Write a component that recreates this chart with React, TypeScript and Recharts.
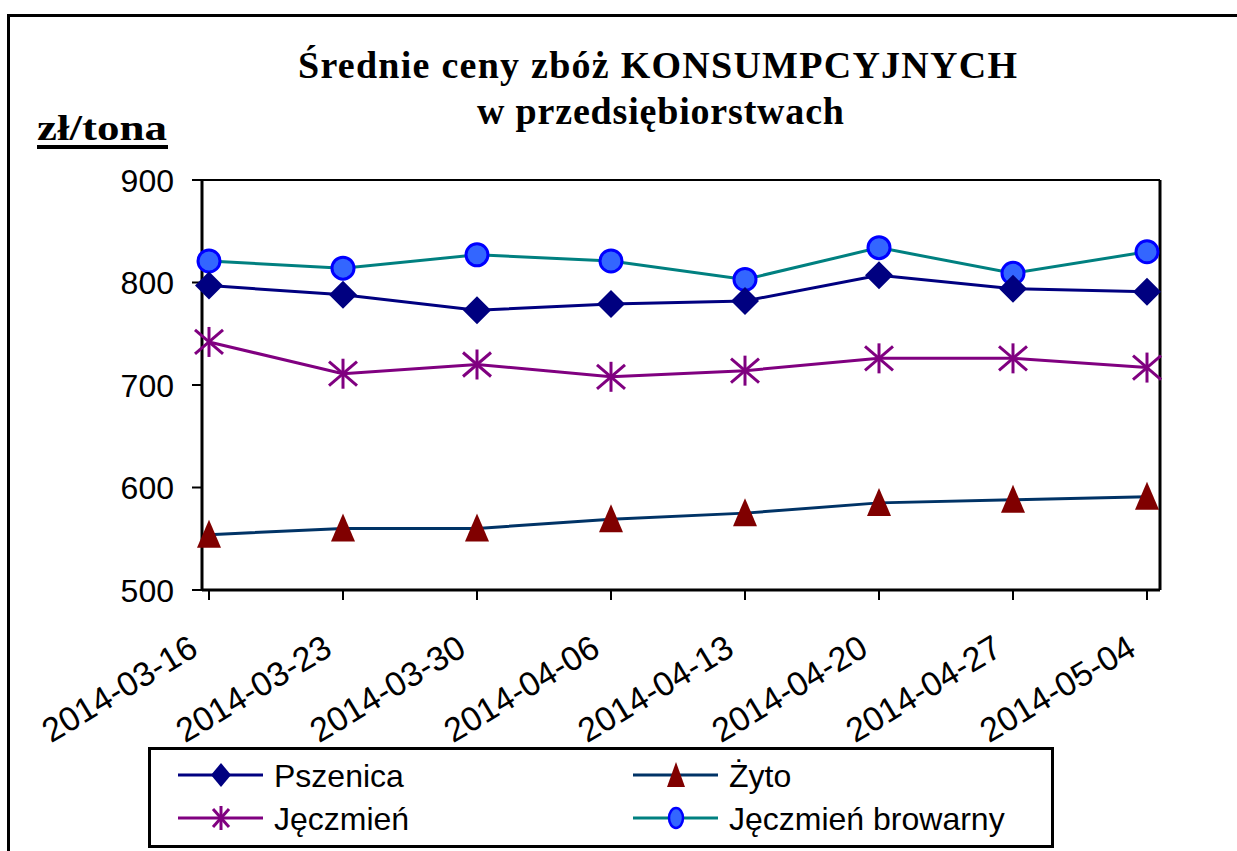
import React from "react";
import { LineChart, Line, XAxis, YAxis, CartesianGrid } from "recharts";

const dates = ["2014-03-16", "2014-03-23", "2014-03-30", "2014-04-06", "2014-04-13", "2014-04-20", "2014-04-27", "2014-05-04"];
const pszenica = [797, 788, 773, 779, 782, 807, 794, 791];
const zyto = [554, 560, 560, 569, 575, 585, 588, 591];
const jeczmien = [742, 711, 720, 708, 714, 726, 726, 717];
const browarny = [821, 814, 827, 821, 803, 834, 809, 830];
const yTicks = [500, 600, 700, 800, 900];

const data = dates.map((d, i) => ({
  date: d,
  pszenica: pszenica[i],
  zyto: zyto[i],
  jeczmien: jeczmien[i],
  browarny: browarny[i],
}));

const SANS = "Arial, 'Liberation Sans', sans-serif";
const SERIF = "'Times New Roman', 'Liberation Serif', serif";

const Diamond = (p: any) => {
  const { cx, cy } = p;
  if (cx == null || cy == null) return <g key={p.index} />;
  return <path key={p.index} d={`M${cx},${cy - 14} L${cx + 14},${cy} L${cx},${cy + 14} L${cx - 14},${cy} Z`} fill="#000080" />;
};
const Tri = (p: any) => {
  const { cx, cy } = p;
  if (cx == null || cy == null) return <g key={p.index} />;
  return <path key={p.index} d={`M${cx},${cy - 15} L${cx + 12},${cy + 13} L${cx - 12},${cy + 13} Z`} fill="#800000" />;
};
const Star = (p: any) => {
  const { cx, cy } = p;
  if (cx == null || cy == null) return <g key={p.index} />;
  return (
    <g key={p.index} stroke="#800080" strokeWidth={3}>
      <line x1={cx} y1={cy - 15} x2={cx} y2={cy + 15} />
      <line x1={cx - 14} y1={cy - 12} x2={cx + 14} y2={cy + 12} />
      <line x1={cx - 14} y1={cy + 12} x2={cx + 14} y2={cy - 12} />
    </g>
  );
};
const Circ = (p: any) => {
  const { cx, cy } = p;
  if (cx == null || cy == null) return <g key={p.index} />;
  return <circle key={p.index} cx={cx} cy={cy} r={11} fill="#3366FF" stroke="#0000FF" strokeWidth={3} />;
};

const XTick = (p: any) => {
  const { x, y, payload } = p;
  const tx = x - 9;
  const ty = y + 52;
  return (
    <text x={tx} y={ty} textAnchor="end" fontFamily={SANS} fontSize={34} fill="#000" transform={`rotate(-31, ${tx}, ${ty})`}>
      {payload.value}
    </text>
  );
};
const YTick = (p: any) => {
  const { x, y, payload } = p;
  return (
    <text x={x} y={y} dy="0.36em" textAnchor="end" fontFamily={SANS} fontSize={32} fill="#000">
      {payload.value}
    </text>
  );
};

const legendItems = [
  { name: "Pszenica", color: "#000080", marker: "diamond", x: 178, y: 775 },
  { name: "Żyto", color: "#003366", marker: "tri", x: 633, y: 775 },
  { name: "Jęczmień", color: "#800080", marker: "star", x: 178, y: 818 },
  { name: "Jęczmień browarny", color: "#008080", marker: "circ", x: 633, y: 818 },
];

const LegendMarker = ({ kind, cx, cy }: any) => {
  if (kind === "diamond") return <path d={`M${cx},${cy - 12} L${cx + 10},${cy} L${cx},${cy + 12} L${cx - 10},${cy} Z`} fill="#000080" />;
  if (kind === "tri") return <path d={`M${cx},${cy - 13} L${cx + 9},${cy + 12} L${cx - 9},${cy + 12} Z`} fill="#800000" />;
  if (kind === "star")
    return (
      <g stroke="#800080" strokeWidth={3}>
        <line x1={cx} y1={cy - 12} x2={cx} y2={cy + 12} />
        <line x1={cx - 8} y1={cy - 9} x2={cx + 8} y2={cy + 9} />
        <line x1={cx - 8} y1={cy + 9} x2={cx + 8} y2={cy - 9} />
      </g>
    );
  return <ellipse cx={cx} cy={cy} rx={7} ry={10} fill="#3366FF" stroke="#0000FF" strokeWidth={2.5} />;
};

export default function App() {
  return (
    <div style={{ position: "absolute", left: 0, top: 0, width: 1237, height: 851, background: "#fff", overflow: "hidden" }}>
      <LineChart width={1237} height={851} data={data} margin={{ top: 180, right: 67, bottom: 161, left: 142 }}>
        <CartesianGrid horizontal={true} vertical={false} stroke="#000" strokeWidth={2} strokeOpacity={1} />
        <XAxis
          dataKey="date"
          height={100}
          padding={{ left: 7, right: 13 }}
          interval={0}
          tick={<XTick />}
          tickSize={10}
          axisLine={{ stroke: "#000", strokeWidth: 3 }}
          tickLine={{ stroke: "#000", strokeWidth: 2 }}
        />
        <YAxis
          yAxisId="left"
          domain={[500, 900]}
          ticks={yTicks}
          width={60}
          tickSize={10}
          tickMargin={18}
          tick={<YTick />}
          axisLine={{ stroke: "#000", strokeWidth: 3 }}
          tickLine={{ stroke: "#000", strokeWidth: 2 }}
        />
        <YAxis
          yAxisId="right"
          orientation="right"
          domain={[500, 900]}
          width={10}
          tick={false}
          tickLine={false}
          axisLine={{ stroke: "#000", strokeWidth: 3 }}
        />
        <Line yAxisId="left" type="linear" dataKey="zyto" name="Żyto" stroke="#003366" strokeWidth={3} dot={Tri} isAnimationActive={false} />
        <Line yAxisId="left" type="linear" dataKey="jeczmien" name="Jęczmień" stroke="#800080" strokeWidth={3} dot={Star} isAnimationActive={false} />
        <Line yAxisId="left" type="linear" dataKey="browarny" name="Jęczmień browarny" stroke="#008080" strokeWidth={3} dot={Circ} isAnimationActive={false} />
        <Line yAxisId="left" type="linear" dataKey="pszenica" name="Pszenica" stroke="#000080" strokeWidth={3} dot={Diamond} isAnimationActive={false} />
      </LineChart>
      <svg width={1237} height={851} style={{ position: "absolute", left: 0, top: 0, pointerEvents: "none" }}>
        <line x1={8} y1={15.5} x2={1237} y2={15.5} stroke="#000" strokeWidth={3} />
        <line x1={8.5} y1={14} x2={8.5} y2={851} stroke="#000" strokeWidth={3} />
        <text x={298} y={78} fontFamily={SERIF} fontWeight="bold" fontSize={38} fill="#000" textLength={719} lengthAdjust="spacing">
          Średnie ceny zbóż KONSUMPCYJNYCH
        </text>
        <text x={477} y={124} fontFamily={SERIF} fontWeight="bold" fontSize={38} fill="#000" textLength={367} lengthAdjust="spacing">
          w przedsiębiorstwach
        </text>
        <text x={37} y={140} fontFamily={SERIF} fontWeight="bold" fontSize={36} fill="#000" textLength={130} lengthAdjust="spacingAndGlyphs">
          zł/tona
        </text>
        <rect x={37} y={145} width={131} height={4} fill="#000" />
        <rect x={149.5} y={748.5} width={903} height={98} fill="none" stroke="#000" strokeWidth={3} />
        {legendItems.map((it) => (
          <g key={it.name}>
            <line x1={it.x} y1={it.y} x2={it.x + 85} y2={it.y} stroke={it.color} strokeWidth={3} />
            <LegendMarker kind={it.marker} cx={it.x + 43} cy={it.y} />
            <text x={it.x + 96} y={it.y} dy="0.36em" fontFamily={SANS} fontSize={32} fill="#000">
              {it.name}
            </text>
          </g>
        ))}
      </svg>
    </div>
  );
}
